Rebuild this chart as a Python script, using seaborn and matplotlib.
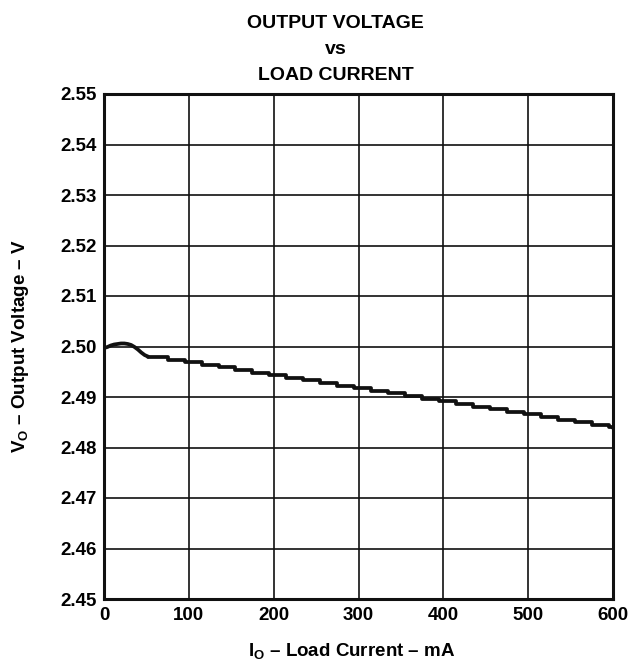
import matplotlib
matplotlib.use('Agg')
import matplotlib.pyplot as plt
import seaborn as sns
import pandas as pd

# data: rounded part at low current, then staircase
curve_current = [0, 4, 8, 12, 16, 20, 24, 28, 32, 36, 40, 44, 48, 52]
curve_voltage = [2.4997, 2.4999, 2.5002, 2.5004, 2.5005, 2.5006, 2.5006,
                 2.5005, 2.5003, 2.4999, 2.4994, 2.4988, 2.4983, 2.4980]

step_current = [52, 75, 95, 115, 135, 155, 175, 195, 215, 235, 255, 275, 295,
                315, 335, 355, 375, 395, 415, 435, 455, 475, 495, 515, 535,
                555, 575, 595, 600]
step_voltage = [2.4980, 2.4974, 2.4969, 2.4964, 2.4959, 2.4953, 2.4948,
                2.4943, 2.4938, 2.4933, 2.4927, 2.4922, 2.4917, 2.4912,
                2.4907, 2.4902, 2.4897, 2.4892, 2.4887, 2.4881, 2.4876,
                2.4871, 2.4866, 2.4861, 2.4855, 2.4850, 2.4845, 2.4840,
                2.4838]

x_ticks = [0, 100, 200, 300, 400, 500, 600]
y_ticks = [2.45, 2.46, 2.47, 2.48, 2.49, 2.50, 2.51, 2.52, 2.53, 2.54, 2.55]

sns.set_style('white')
plt.rcParams['font.family'] = ['Liberation Sans', 'DejaVu Sans']
plt.rcParams['font.weight'] = 'bold'
plt.rcParams['mathtext.fontset'] = 'custom'
plt.rcParams['mathtext.rm'] = 'Liberation Sans:bold'
plt.rcParams['mathtext.bf'] = 'Liberation Sans:bold'
plt.rcParams['text.color'] = 'black'
plt.rcParams['axes.labelcolor'] = 'black'
plt.rcParams['xtick.color'] = 'black'
plt.rcParams['ytick.color'] = 'black'

curve_df = pd.DataFrame({'current': curve_current, 'voltage': curve_voltage})
step_df = pd.DataFrame({'current': step_current, 'voltage': step_voltage})

fig = plt.figure(figsize=(6.37, 6.65), dpi=100)
ax = fig.add_axes([104 / 637, 1 - 599 / 665, 509 / 637, 505 / 665])

sns.lineplot(x='current', y='voltage', data=curve_df, ax=ax, color='#111111',
             linewidth=2.7, zorder=3)
sns.lineplot(x='current', y='voltage', data=step_df, ax=ax, color='#111111',
             linewidth=2.7, drawstyle='steps-post', zorder=3)

ax.set_xlim(0, 600)
ax.set_ylim(2.45, 2.55)
ax.set_xticks(x_ticks)
ax.set_yticks(y_ticks)
ax.set_xticklabels([str(t) for t in x_ticks])
ax.set_yticklabels([f'{t:.2f}' for t in y_ticks])
ax.tick_params(length=0, labelsize=13.5, labelcolor='black')
ax.tick_params(axis='y', pad=5)
ax.tick_params(axis='x', pad=6)
for lab in ax.get_xticklabels() + ax.get_yticklabels():
    lab.set_fontweight('bold')

ax.grid(True, color='#111111', linewidth=1.2)
for s in ax.spines.values():
    s.set_color('#111111')
    s.set_linewidth(2.2)
    s.set_visible(True)

ax.set_xlabel(r'I$_\mathbf{O}$ – Load Current – mA', fontsize=13.5,
              fontweight='bold', labelpad=10, color='black')
ax.xaxis.set_label_coords(0.487, -0.085)
ax.set_ylabel(r'V$_\mathbf{O}$ – Output Voltage – V', fontsize=13.5,
              fontweight='bold', labelpad=21, color='black')
ax.set_title('OUTPUT VOLTAGE\nvs\nLOAD CURRENT', fontsize=14,
             fontweight='bold', linespacing=1.7, pad=10, x=0.455,
             color='black')

fig.savefig('out.png', dpi=100)
